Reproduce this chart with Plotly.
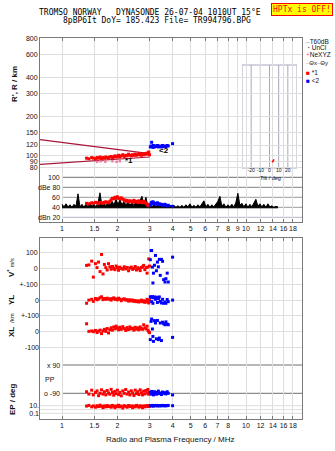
import numpy as np
import plotly.graph_objects as go

# ---------------- data ----------------
title_line1 = "TROMSO NORWAY   DYNASONDE 26-07-04 1010UT 15°E"
title_line2 = "8pBP6It DoY= 185.423 File= TR994796.BPG"
status_text = "HPTx is OFF!"

freq_ticks_mid = [1, 1.5, 2, 3, 4, 5, 6, 7, 8, 9, 10, 12, 14, 16, 18]
freq_ticks_top = [1, 1.5, 2, 3, 4, 5, 6, 7, 8, 10, 12, 14, 16, 18]
freq_ticks_bot = [1, 1.5, 2, 3, 4, 5, 6, 7, 8, 10, 12, 14, 16, 18]
height_ticks = [80, 90, 100, 120, 150, 200, 300, 400, 600, 800]
db_ticks = [20, 40, 60, 80, 100]
db_tick_labels = ["dBn 20", "40", "60", "dBe 80", "100"]
vstar_ticks = [100, 0, -100]
vstar_labels = ["100", "0", "+-100"]
yl_ticks = [0, -100]
yl_labels = ["0", "+-100"]
xl_ticks = [0, -100]
xl_labels = ["0", "-100"]
ep_ticks = [90, -90]
ep_labels = ["x 90", "o -90"]
pr_ticks = [10, 0.1]
pr_labels = ["10.", "0.1"]
pr_grid = [10, 1, 0.1]
tilt_ticks = [-20, -10, 0, 10, 20]
tilt_grid = [-30, -20, -10, 0, 10, 20, 30]

# model layer lines (height panel)
model_f = [0.76, 3.0]
model_upper_h = [132, 103]
model_lower_h = [85, 97]

# NeXYZ points
nexyz_f = [1.55, 1.62, 1.72, 1.88, 1.98, 2.06]
nexyz_h = [89, 90, 89, 90, 89, 90]

# echo group *1 (red)
red_f = [1.36, 1.40, 1.45, 1.48, 1.52, 1.55, 1.58, 1.61, 1.64, 1.67,
         1.70, 1.73, 1.76, 1.79, 1.82, 1.85, 1.88, 1.91, 1.94, 1.97,
         2.00, 2.03, 2.06, 2.10, 2.14, 2.18, 2.22, 2.26, 2.30, 2.34,
         2.38, 2.42, 2.46, 2.50, 2.54, 2.58, 2.62, 2.66, 2.70, 2.74,
         2.78, 2.82, 2.86, 2.90, 2.93, 2.96, 2.99]
red_h = [95, 94, 96, 95, 94, 96, 95, 97, 94, 96,
         95, 97, 96, 95, 97, 98, 96, 97, 99, 97,
         98, 100, 97, 99, 101, 98, 100, 99, 102, 100,
         99, 101, 100, 102, 100, 101, 103, 101, 100, 102,
         101, 103, 102, 104, 103, 106, 101]
red_db = [48, 47, 49, 48, 50, 49, 47, 50, 49, 48,
          50, 51, 50, 49, 52, 55, 58, 57, 60, 59,
          61, 58, 57, 59, 56, 55, 52, 54, 51, 53,
          52, 50, 54, 51, 52, 50, 53, 50, 51, 49,
          52, 50, 48, 46, 44, 43, 45]
red_v = [19, 22, 46, -55, 30, 5, 40, -20, 88, -35,
         25, 5, -10, 30, 10, -5, 12, 0, -8, 15,
         5, -12, 8, 0, -5, 10, -3, 6, -15, 2,
         8, -6, 0, 12, -10, 4, -2, -14, 6, 10,
         19, -8, 5, -30, 8, 60, 15]
red_yl = [-20, 0, 5, -8, 10, 2, 8, 15, 21, 3,
          10, 5, 12, 6, 8, 0, 10, 14, 5, 8,
          2, 12, 6, -4, 5, 8, 0, 3, -6, 2,
          -5, 0, -8, -3, -10, -5, -12, -6, 0, -10,
          -4, -14, -8, 5, -12, -18, 0]
red_xl = [50, 2, 5, 0, 8, -5, 3, 10, -12, 5,
          15, 2, 20, -8, 12, 25, 10, 30, 18, 35,
          22, 12, 28, 15, 32, 20, 8, 26, 14, 30,
          18, 22, 10, 28, 16, 24, 12, 30, 20, 15,
          44, 25, 18, 35, 10, 0, -6]
red_ep = [-80, -95, -70, -100, -85, -75, -105, -90, -68, -95,
          -80, -100, -72, -88, -96, -65, -85, -102, -78, -92,
          -70, -98, -84, -106, -75, -90, -66, -95, -82, -100,
          -74, -88, -104, -70, -92, -80, -98, -68, -86, -100,
          -76, -94, -72, -88, -66, -96, -84]
red_pr = [8, 12, 5, 9, 4, 10, 6, 14, 7, 3,
          9, 5, 11, 6, 8, 4, 12, 7, 3, 9,
          6, 13, 5, 8, 2.5, 10, 7, 4, 11, 6,
          9, 3, 8, 5, 12, 7, 4, 10, 6, 3,
          9, 5, 8, 11, 6, 10, 7]

# echo group <2 (blue)
blue_f = [3.02, 3.05, 3.07, 3.10, 3.12, 3.14, 3.18, 3.22, 3.26, 3.30,
          3.34, 3.38, 3.42, 3.47, 3.52, 3.57, 3.63, 3.67, 3.73, 3.78, 3.99]
blue_h = [116, 118, 126, 117, 115, 119, 116, 118, 117, 119,
          116, 118, 117, 116, 119, 117, 118, 116, 119, 118, 123]
blue_db = [44, 48, 50, 47, 51, 49, 48, 46, 47, 49,
           46, 47, 45, 46, 44, 45, 46, 44, 43, 44, 42]
blue_v = [55, 113, 113, 8, -92, -30, 20, 82, -15, 40,
          10, 57, -44, 57, 45, -71, -86, -65, -30, -86, 71]
blue_yl = [21, 18, -10, 22, -20, 15, 20, 5, 18, -15,
           10, 20, -8, -18, 5, -20, -12, -20, 4, -10, 0]
blue_xl = [-50, 65, 80, 17, -30, -61, 70, 55, -45, 71,
           -50, -40, 55, -56, 60, 50, 44, 62, 48, 44, -36]
blue_ep = [-85, -95, -78, -92, -88, -100, -80, -90, -96, -84,
           -76, -92, -88, -98, -82, -90, -86, -94, -80, -90, -100]
blue_pr = [10, 11, 9, 12, 10, 8, 11, 10, 12, 9,
           10, 11, 9, 10, 12, 10, 9, 11, 10, 12, 10]

# receiver amplitude / noise trace (dB), sampled from 1.0 to 14.9 MHz
noise_f_start, noise_f_end = 1.0, 14.9
noise_floor_db = 39
noise_db = [46, 41, 47, 41, 45, 40, 46, 42, 67, 41,
            46, 40, 47, 41, 48, 42, 46, 41, 49, 69,
            42, 48, 43, 50, 44, 52, 45, 56, 46, 55,
            45, 52, 44, 51, 44, 50, 43, 52, 44, 55,
            62, 45, 60, 41, 47, 40, 46, 41, 45, 40,
            46, 41, 45, 40, 44, 40, 44, 40, 43, 40,
            44, 40, 45, 41, 47, 40, 44, 40, 45, 41,
            48, 53, 41, 46, 40, 45, 41, 47, 52, 62,
            42, 47, 40, 45, 41, 46, 40, 50, 68, 44,
            48, 41, 47, 40, 46, 41, 50, 56, 42, 47,
            41, 46, 40, 47, 41, 43, 40, 42, 41]
noise_f = np.geomspace(noise_f_start, noise_f_end, len(noise_db))

# tilt inset mark
tilt_deg = [3.0, 4.9]
tilt_h = [88, 93]

# ---------------- layout geometry (pixels) ----------------
W, H = 335, 451
L, R, T, B = 40, 302, 38, 419
UP_BOT, LO_TOP = 222, 238
FONT = "Liberation Sans, Arial, sans-serif"
MONO = "DejaVu Sans Mono, Liberation Mono, monospace"

def xp(px):
    return (px - L) / (R - L)

def yp(py):
    return (B - py) / (B - T)

X_F1, X_DEC = 62.0, 184.0
x_range = [(L - X_F1) / X_DEC, (R - X_F1) / X_DEC]
f_right = 10 ** x_range[1]
H100, H_DEC = 155.0, 130.0
h_range = [2 - (UP_BOT - H100) / H_DEC, 2 + (H100 - T + 0.8) / H_DEC]
DB0, DB_S = 227.3, 0.5
db_range = [(DB0 - UP_BOT) / DB_S, (DB0 - T) / DB_S]
S_L = 0.1583
def lin_range(zero_px, s):
    return [-(B - zero_px) / s, (zero_px - LO_TOP) / s]
v_range = lin_range(268.4, S_L)
yl_range = lin_range(300.1, S_L)
xl_range = lin_range(331.7, S_L)
ep_range = lin_range(379.15, 28.3 / 180)
PR0, PR_S = 409.5, 3.8
pr_range = [-(B - PR0) / PR_S, (PR0 - LO_TOP) / PR_S]

RED, BLUE = "#ff0000", "#0000ff"
DARKRED = "#a8163a"
PINK = "#f080a8"
GRID = "#dedede"
FRAME = "#7a7a7a"
INSET = "#a8a8c0"
TICKF = dict(family=FONT, size=7, color="#111")

fig = go.Figure()

def sc(x, y, xa, ya, **kw):
    fig.add_trace(go.Scatter(x=x, y=y, xaxis=xa, yaxis=ya, showlegend=False,
                             hoverinfo="skip", **kw))

# height panel
sc(model_f, model_upper_h, "x2", "y", mode="lines", line=dict(color=DARKRED, width=1.2))
sc(model_f, model_lower_h, "x2", "y", mode="lines", line=dict(color=DARKRED, width=1.2))
sc(nexyz_f, nexyz_h, "x2", "y", mode="markers",
   marker=dict(symbol="square", size=2.5, color=PINK))
sc(red_f, red_h, "x2", "y", mode="markers", marker=dict(symbol="square", size=3, color=RED))
sc(blue_f, blue_h, "x2", "y", mode="markers", marker=dict(symbol="square", size=3, color=BLUE))
# dB panel
sc([noise_f_start, noise_f_end], [noise_floor_db, noise_floor_db], "x2", "y2", mode="lines",
   line=dict(color="black", width=1))
sc(noise_f, noise_db, "x2", "y2", mode="lines", line=dict(color="black", width=1),
   fill="tonexty", fillcolor="black")
sc(red_f, red_db, "x2", "y2", mode="lines+markers", line=dict(color=RED, width=1.5),
   marker=dict(symbol="square", size=3, color=RED))
sc(blue_f, blue_db, "x2", "y2", mode="lines+markers", line=dict(color=BLUE, width=1.5),
   marker=dict(symbol="square", size=3, color=BLUE))
# tilt inset
sc(tilt_deg, tilt_h, "x4", "y", mode="lines", line=dict(color=RED, width=1.5))
# lower panels
for ya, rv, bv in [("y3", red_v, blue_v), ("y4", red_yl, blue_yl), ("y5", red_xl, blue_xl),
                   ("y6", red_ep, blue_ep), ("y7", red_pr, blue_pr)]:
    sc(red_f, rv, "x", ya, mode="markers", marker=dict(symbol="square", size=3, color=RED))
    sc(blue_f, bv, "x", ya, mode="markers", marker=dict(symbol="square", size=3, color=BLUE))

xcommon = dict(type="log", range=x_range, showgrid=True, gridcolor=GRID, gridwidth=1,
               zeroline=False, tickfont=TICKF, ticks="inside", ticklen=3, tickcolor=FRAME,
               automargin=False, fixedrange=True, tickangle=0)
ycommon = dict(zeroline=False, tickfont=TICKF, automargin=False, fixedrange=True, ticks="")

layout = dict(
    width=W, height=H, margin=dict(l=L, r=W - R, t=T, b=H - B, pad=0),
    paper_bgcolor="white", plot_bgcolor="rgba(0,0,0,0)", template="none",
    showlegend=False, font=dict(family=FONT, size=8, color="#111"),
    xaxis=dict(xcommon, domain=[0, 1], anchor="y3", tickvals=freq_ticks_bot,
               ticktext=[f"{v:g}" for v in freq_ticks_bot],
               showline=True, linecolor=FRAME, mirror="ticks"),
    xaxis2=dict(xcommon, domain=[0, 1], anchor="y", tickvals=freq_ticks_mid,
                ticktext=[f"{v:g}" for v in freq_ticks_mid],
                showline=True, linecolor=FRAME, mirror="ticks"),
    xaxis3=dict(xcommon, overlaying="x2", anchor="y", side="top", tickvals=freq_ticks_top,
                ticktext=[f"{v:g}" for v in freq_ticks_top], showgrid=False, ticks=""),
    xaxis4=dict(domain=[xp(242), xp(297)], anchor="free", position=yp(165.5), range=[-30, 30],
                tickvals=tilt_ticks, ticktext=[str(v) for v in tilt_ticks], showgrid=False,
                zeroline=False, showline=False, ticks="", automargin=False, fixedrange=True,
                tickangle=0, tickfont=dict(family=FONT, size=5, color="#111")),
    yaxis=dict(ycommon, domain=[yp(UP_BOT), 1], anchor="x2", type="log", range=h_range,
               tickvals=height_ticks, ticktext=[str(v) for v in height_ticks],
               showgrid=True, gridcolor=GRID, showline=True, linecolor=FRAME, mirror=True),
    yaxis2=dict(ycommon, overlaying="y", anchor="x2", range=db_range, showgrid=False,
                showticklabels=False, showline=False),
    yaxis3=dict(ycommon, domain=[0, yp(LO_TOP)], anchor="x", range=v_range,
                tickvals=vstar_ticks, ticktext=vstar_labels, showgrid=True, gridcolor=GRID,
                showline=True, linecolor=FRAME, mirror=True),
    yaxis4=dict(ycommon, overlaying="y3", anchor="x", range=yl_range, tickvals=yl_ticks,
                ticktext=yl_labels, showgrid=True, gridcolor=GRID, showline=False),
    yaxis5=dict(ycommon, overlaying="y3", anchor="x", range=xl_range, tickvals=xl_ticks,
                ticktext=xl_labels, showgrid=True, gridcolor=GRID, showline=False),
    yaxis6=dict(ycommon, overlaying="y3", anchor="x", range=ep_range, showgrid=False,
                showticklabels=False, showline=False),
    yaxis7=dict(ycommon, overlaying="y3", anchor="x", type="log", range=pr_range,
                tickvals=pr_ticks, ticktext=pr_labels, showgrid=False, showline=False),
)
fig.update_layout(**layout)

shapes = []
db_colors = {20: "#b4b4cc", 40: "#999999", 60: "#999999", 80: "#808080", 100: "#707070"}
for v in db_ticks:
    shapes.append(dict(type="line", xref="x2", yref="y2", x0=1.0, x1=f_right, y0=v, y1=v,
                       line=dict(color=db_colors[v], width=1), layer="below"))
for v in ep_ticks:
    shapes.append(dict(type="line", xref="x", yref="y6", x0=1.0, x1=f_right, y0=v, y1=v,
                       line=dict(color="#707070", width=1), layer="below"))
for v in pr_grid:
    shapes.append(dict(type="line", xref="paper", yref="y7", x0=0, x1=1, y0=v, y1=v,
                       line=dict(color=GRID, width=1), layer="below"))
for v in tilt_grid:
    shapes.append(dict(type="line", xref="x4", yref="paper", x0=v, x1=v, y0=yp(168), y1=yp(65),
                       line=dict(color=INSET, width=1), layer="below"))
for py in (65, 168):
    shapes.append(dict(type="line", xref="x4", yref="paper", x0=-30, x1=30, y0=yp(py), y1=yp(py),
                       line=dict(color=INSET, width=1), layer="below"))
fig.update_layout(shapes=shapes)

ann = []
def A(text, x, y, xref="paper", yref="paper", xanchor="center", yanchor="middle", size=8,
      family=FONT, color="#111", angle=0, **kw):
    ann.append(dict(text=text, x=x, y=y, xref=xref, yref=yref, xanchor=xanchor,
                    yanchor=yanchor, showarrow=False, textangle=angle,
                    font=dict(family=family, size=size, color=color), **kw))

A(title_line1, xp(150), yp(12.5), size=8, family=MONO, color="black")
A(title_line2, xp(157), yp(21), size=8, family=MONO, color="black")
A(status_text, xp(333), yp(3), xanchor="right", yanchor="top", size=8, family=MONO,
  color=RED, bgcolor="#ffff00", bordercolor=RED, borderwidth=1, borderpad=1)

for v, t in zip(db_ticks, db_tick_labels):
    A(t, xp(62), v, yref="y2", xanchor="right", size=7)
for v, t in zip(ep_ticks, ep_labels):
    A(t, xp(62), v, yref="y6", xanchor="right", size=7)
A("PP", xp(43), yp(379), xanchor="left", size=7)

A("<b>R', R / km</b>", xp(15), yp(84), angle=-90, size=8)
A("<b>V<sup>*</sup></b> <span style='font-size:5.5px'>m/s</span>", xp(11), yp(268), angle=-90, size=8)
A("<b>YL</b>", xp(11), yp(300), angle=-90, size=8)
A("/km", xp(12), yp(318), angle=-90, size=6)
A("<b>XL</b>", xp(11), yp(332), angle=-90, size=8)
A("<b>EP / deg</b>", xp(12), yp(399), angle=-90, size=8)
A("Radio and Plasma Frequency / MHz", xp(170), yp(439), size=8)
A("Tilt / deg", xp(270), yp(178), size=5.5)

A("<b>*1</b>", xp(129), yp(160), size=8, color="black")
A("<b>&lt;2</b>", xp(164), yp(150), size=8, color="black")

lx = xp(304)
A("<span style='color:#a0a0a0'>–</span>T60dB", lx, yp(41.7), xanchor="left", size=6.5)
A("<b> ·</b> UnCl", lx, yp(47.5), xanchor="left", size=6.5)
A("<span style='color:#ff6090'>+</span>NeXYZ", lx, yp(55), xanchor="left", size=6.5)
A("<span style='color:#ff8080'>–</span>Θx<span style='color:#8080ff'>–</span>Θy", lx,
  yp(62.7), xanchor="left", size=6)
A("<span style='color:#ff0000'>■</span> *1", lx, yp(72.7), xanchor="left", size=6.5)
A("<span style='color:#0000ff'>■</span> &lt;2", lx, yp(80.7), xanchor="left", size=6.5)

fig.update_layout(annotations=ann)
fig.write_html("out.html")
